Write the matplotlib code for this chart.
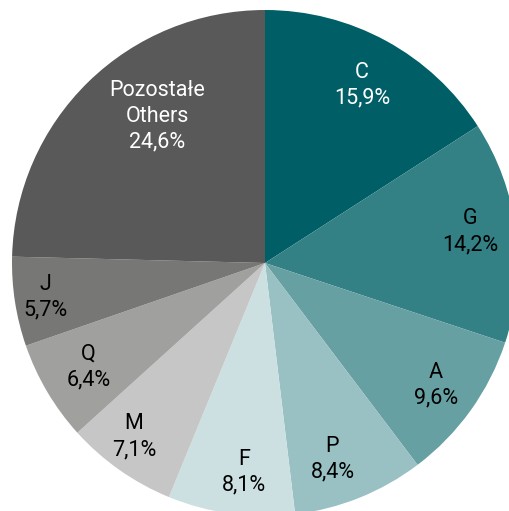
import numpy as np
import matplotlib.pyplot as plt

plt.rcParams['font.family'] = ['Roboto', 'DejaVu Sans']

# sections, shares in %
labels = ['C', 'G', 'A', 'P', 'F', 'M', 'Q', 'J', 'Pozostałe\nOthers']
values = [15.9, 14.2, 9.6, 8.4, 8.1, 7.1, 6.4, 5.7, 24.6]
colors = ['#005f66', '#338085', '#66a0a3', '#99c0c2', '#cce0e1',
          '#c6c6c6', '#a0a09f', '#777776', '#595959']
txt_colors = ['white', 'black', 'black', 'black', 'black',
              'black', 'black', 'black', 'white']
# label radius (fraction of pie radius) and angle shift (deg)
lab_r = [0.80, 0.82, 0.83, 0.82, 0.83, 0.86, 0.81, 0.88, 0.72]
lab_shift = [0, 1.5, 0, -3, 2, -2, 0, 0, -8]

fig = plt.figure(figsize=(5.09, 5.11), dpi=100)
ax = fig.add_axes([0, 0, 1, 1])

wedges, _ = ax.pie(values, colors=colors, startangle=90, counterclock=False,
                   radius=1, wedgeprops=dict(linewidth=0))

for w, lab, v, tc, r, sh in zip(wedges, labels, values, txt_colors, lab_r, lab_shift):
    ang = np.deg2rad((w.theta1 + w.theta2) / 2 + sh)
    x, y = r * np.cos(ang), r * np.sin(ang)
    txt = lab + '\n' + ('%.1f%%' % v).replace('.', ',')
    ax.text(x, y, txt, ha='center', va='center', color=tc, fontsize=15.5,
            linespacing=1.3)

# pie radius = 253 px, centre at (265, 263) px from top-left
ax.set_xlim(-265 / 253, (509 - 265) / 253)
ax.set_ylim(-(511 - 263) / 253, 263 / 253)
ax.set_aspect('auto')
ax.axis('off')

plt.savefig('out.png', dpi=100)
